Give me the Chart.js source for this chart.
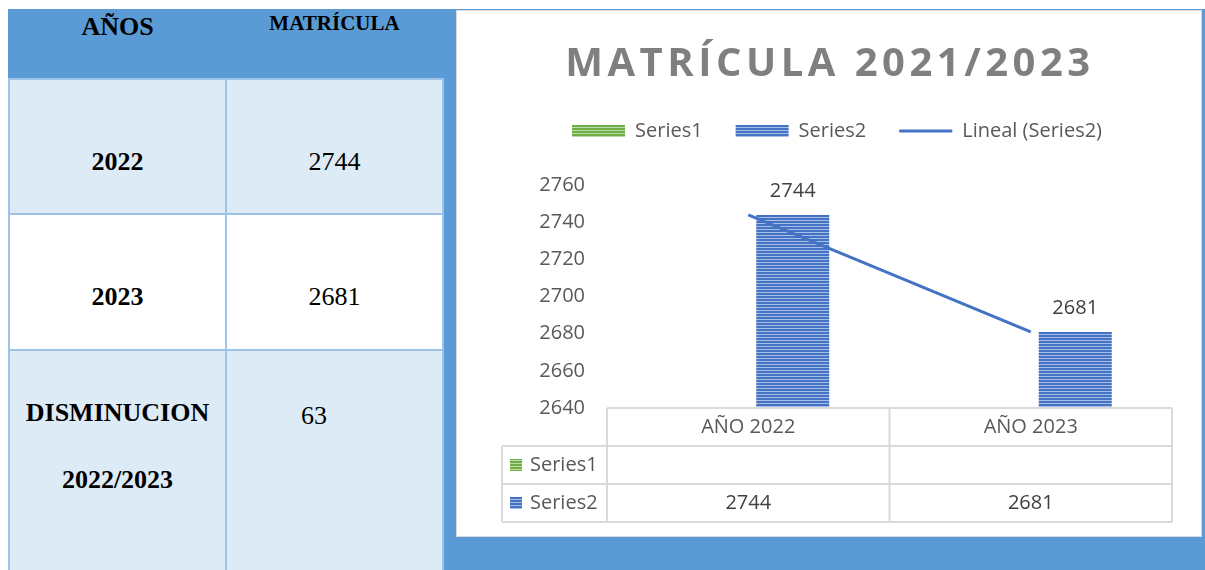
<!DOCTYPE html>
<html>
<head>
<meta charset="utf-8">
<script src="https://cdn.jsdelivr.net/npm/chart.js@4.4.1/dist/chart.umd.min.js"></script>
<style>
  body { margin: 0; width: 1205px; height: 570px; overflow: hidden; background: #fff; position: relative; font-family: "Liberation Serif", "Times New Roman", serif; }
  #bg { position: absolute; left: 8px; top: 9px; width: 1197px; height: 561px; background: #5B9BD5; }
  .cell { position: absolute; box-sizing: border-box; border: 2px solid #9DC3E6; background: #DDEBF7; }
  .cell.white { background: #fff; }
  .txt { position: absolute; text-align: center; line-height: 30px; color: #000; font-size: 26px; white-space: nowrap; }
  .b { font-weight: bold; }
  #box { position: absolute; left: 456px; top: 10px; width: 746px; height: 527px; box-sizing: border-box; border: 1px solid #d9d9d9; background: #fff; }
  #chart { display: block; }
</style>
</head>
<body>
<div id="bg"></div>

<!-- left table -->
<div class="cell" style="left:8px;top:78px;width:219px;height:137px"></div>
<div class="cell" style="left:225px;top:78px;width:219px;height:137px"></div>
<div class="cell white" style="left:8px;top:213px;width:219px;height:138px"></div>
<div class="cell white" style="left:225px;top:213px;width:219px;height:138px"></div>
<div class="cell" style="left:8px;top:349px;width:219px;height:230px"></div>
<div class="cell" style="left:225px;top:349px;width:219px;height:230px"></div>

<div class="txt b" style="left:8px;width:219px;top:12px">AÑOS</div>
<div class="txt b" style="left:226px;width:217px;top:8px;font-size:21px">MATRÍCULA</div>
<div class="txt b" id="y0" style="left:8px;width:219px;top:147px"></div>
<div class="txt" id="m0" style="left:226px;width:217px;top:147px"></div>
<div class="txt b" id="y1" style="left:8px;width:219px;top:282px"></div>
<div class="txt" id="m1" style="left:226px;width:217px;top:282px"></div>
<div class="txt b" id="d0" style="left:8px;width:219px;top:398px"></div>
<div class="txt b" id="d1" style="left:8px;width:219px;top:465px"></div>
<div class="txt" id="dv" style="left:301px;top:401px;text-align:left"></div>

<div id="box"><canvas id="chart" width="744" height="525"></canvas></div>

<script>
// left table data
const tableYears = ['2022', '2023'];
const tableEnrollment = [2744, 2681];
const decreaseLabel = ['DISMINUCION', '2022/2023'];
const decreaseValue = 63;

// chart data
const categories = ['AÑO 2022', 'AÑO 2023'];
const series1 = [null, null];
const series2 = [2744, 2681];
const trendSeries2 = [2744, 2681];
const yMin = 2640, yMax = 2760, yStep = 20;

document.getElementById('y0').textContent = tableYears[0];
document.getElementById('y1').textContent = tableYears[1];
document.getElementById('m0').textContent = tableEnrollment[0];
document.getElementById('m1').textContent = tableEnrollment[1];
document.getElementById('d0').textContent = decreaseLabel[0];
document.getElementById('d1').textContent = decreaseLabel[1];
document.getElementById('dv').textContent = decreaseValue;

const BLUE = '#4472C4';
const GREEN = '#70AD47';
const FONT = '"Open Sans", "Liberation Sans", sans-serif';

// horizontal striped fill like the Excel pattern
function stripes(dark, light) {
  const c = document.createElement('canvas');
  c.width = 4; c.height = 3;
  const g = c.getContext('2d');
  g.fillStyle = light; g.fillRect(0, 0, 4, 3);
  g.fillStyle = dark; g.fillRect(0, 0, 4, 2);
  return g.createPattern(c, 'repeat');
}
const bluePattern = stripes(BLUE, '#a9bee6');
const greenPattern = stripes(GREEN, '#bcdca8');

// title with letter spacing
const titlePlugin = {
  id: 'bigTitle',
  afterDraw(chart) {
    const ctx = chart.ctx;
    ctx.save();
    ctx.font = 'bold 40px ' + FONT;
    ctx.letterSpacing = '4.5px';
    ctx.fillStyle = '#7f7f7f';
    ctx.textAlign = 'center';
    ctx.textBaseline = 'middle';
    ctx.fillText('MATRÍCULA 2021/2023', chart.width / 2 + 1, 54);
    ctx.restore();
  }
};

// value labels above bars
const labelPlugin = {
  id: 'barLabels',
  afterDatasetsDraw(chart) {
    const ctx = chart.ctx;
    const meta = chart.getDatasetMeta(1);
    ctx.save();
    ctx.font = '20px ' + FONT;
    ctx.fillStyle = '#404040';
    ctx.textAlign = 'center';
    ctx.textBaseline = 'middle';
    meta.data.forEach((bar, i) => {
      ctx.fillText(series2[i], bar.x, bar.y - 24);
    });
    ctx.restore();
  }
};

// data table under the plot
const tablePlugin = {
  id: 'dataTable',
  afterDraw(chart) {
    const ctx = chart.ctx;
    const x = chart.scales.x;
    const top = chart.chartArea.bottom;
    const rowH = 38;
    const left = 45;
    const colW = (x.right - x.left) / categories.length;
    ctx.save();
    ctx.strokeStyle = '#d9d9d9';
    ctx.lineWidth = 2;
    const line = (x1, y1, x2, y2) => { ctx.beginPath(); ctx.moveTo(x1, y1); ctx.lineTo(x2, y2); ctx.stroke(); };
    line(x.left, top, x.right, top);
    for (let r = 1; r <= 3; r++) line(left, top + r * rowH, x.right, top + r * rowH);
    for (let i = 0; i <= categories.length; i++) line(x.left + i * colW, top, x.left + i * colW, top + 3 * rowH);
    line(left, top + rowH, left, top + 3 * rowH);

    ctx.font = '20px ' + FONT;
    ctx.textBaseline = 'middle';
    ctx.textAlign = 'center';
    categories.forEach((c, i) => {
      const cx = x.getPixelForValue(i);
      ctx.fillStyle = '#595959';
      ctx.fillText(c, cx, top + rowH / 2);
      ctx.fillStyle = '#404040';
      if (series1[i] != null) ctx.fillText(series1[i], cx, top + rowH * 1.5);
      if (series2[i] != null) ctx.fillText(series2[i], cx, top + rowH * 2.5);
    });
    ctx.textAlign = 'left';
    [['Series1', greenPattern], ['Series2', bluePattern]].forEach(([name, fill], r) => {
      const cy = top + rowH * (r + 1.5);
      ctx.fillStyle = fill;
      ctx.fillRect(53, cy - 6, 12, 12);
      ctx.fillStyle = '#595959';
      ctx.fillText(name, 73, cy);
    });
    ctx.restore();
  }
};

new Chart(document.getElementById('chart'), {
  type: 'bar',
  data: {
    labels: categories,
    datasets: [
      { label: 'Series1', data: series1, backgroundColor: greenPattern, borderWidth: 0, pointStyle: 'rect',
        categoryPercentage: 0.63, barPercentage: 0.82, order: 2 },
      { label: 'Series2', data: series2, backgroundColor: bluePattern, borderWidth: 0, pointStyle: 'rect',
        categoryPercentage: 0.63, barPercentage: 0.82, order: 2 },
      { type: 'line', label: 'Lineal (Series2)', data: trendSeries2, borderColor: BLUE, backgroundColor: BLUE,
        borderWidth: 3, pointRadius: 0, pointStyle: 'line', order: 1 }
    ]
  },
  options: {
    responsive: false,
    animation: false,
    layout: { padding: { top: 77, left: 45, right: 29, bottom: 14 } },
    plugins: {
      title: { display: false },
      // empty spacer between the legend and the plot
      subtitle: { display: true, text: '', weight: 500, font: { size: 1 }, padding: { top: 0, bottom: 33 } },
      tooltip: { enabled: false },
      legend: {
        position: 'top',
        labels: {
          usePointStyle: true,
          pointStyleWidth: 53,
          boxHeight: 12,
          padding: 33,
          color: '#595959',
          font: { family: FONT, size: 20 },
          sort: (a, b) => a.datasetIndex - b.datasetIndex
        }
      }
    },
    scales: {
      x: {
        grid: { display: false },
        border: { display: false },
        ticks: { display: false },
        afterFit(scale) { scale.height = 114; }
      },
      y: {
        min: yMin,
        max: yMax,
        grid: { display: false },
        border: { display: false },
        ticks: { stepSize: yStep, color: '#595959', padding: 14, font: { family: FONT, size: 20 },
          callback: (v) => String(v) },
        afterFit(scale) { scale.width = 105; }
      }
    }
  },
  plugins: [titlePlugin, labelPlugin, tablePlugin]
});
</script>
</body>
</html>
